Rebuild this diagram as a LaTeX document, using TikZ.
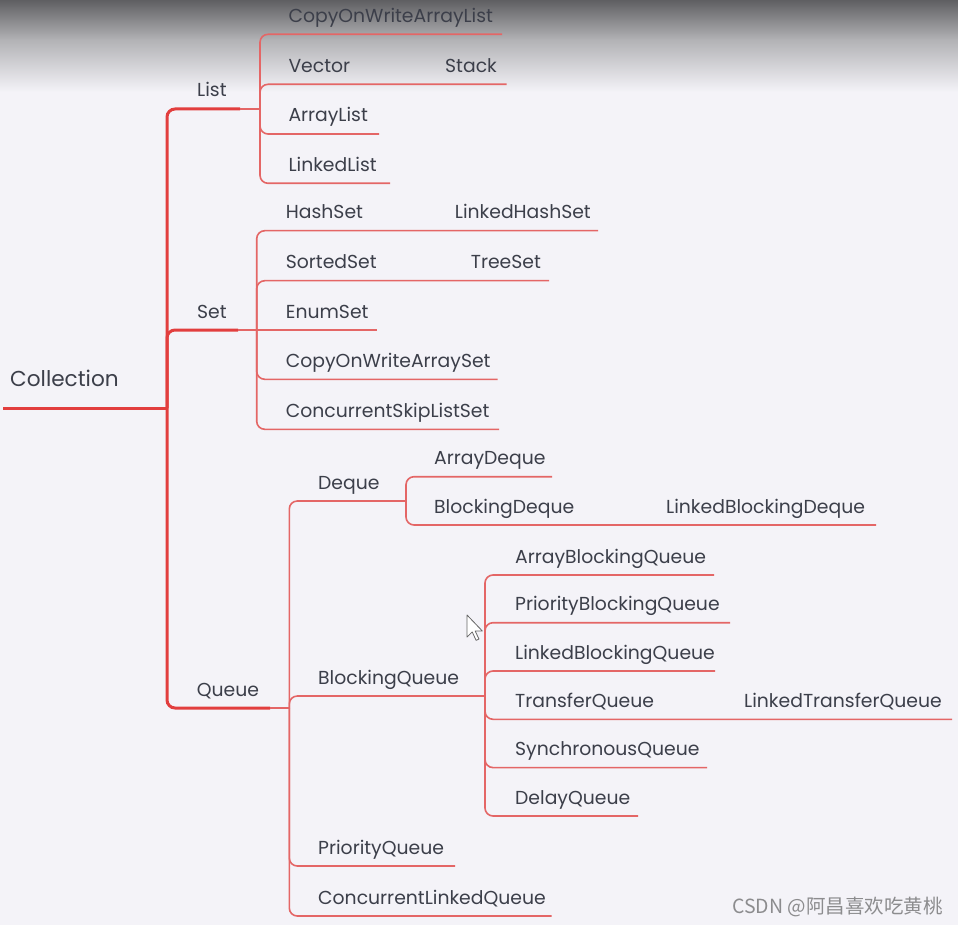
\documentclass[tikz,border=0pt]{standalone}
\usepackage{fontspec}
\setmainfont{Poppins}
\newfontfamily\cjkfont{Noto Sans CJK SC}
\definecolor{bg}{RGB}{244,243,248}
\definecolor{topgray}{RGB}{95,95,98}
\definecolor{midgray}{RGB}{178,178,181}
\definecolor{txt}{RGB}{60,63,74}
\definecolor{thickred}{RGB}{226,62,62}
\definecolor{thinred}{RGB}{228,102,102}
\definecolor{wm}{RGB}{140,140,142}
\begin{document}
\begin{tikzpicture}[x=1pt,y=-1pt,
  lbl/.style={anchor=base west,inner sep=0pt,text=txt,font=\fontsize{18.8}{22}\selectfont},
  rootlbl/.style={anchor=base west,inner sep=0pt,text=txt,font=\fontsize{21.6}{26}\selectfont},
  thickln/.style={draw=thickred,line width=3pt,rounded corners=8pt},
  thinln/.style={draw=thinred,line width=1.6pt,rounded corners=8pt}]
\useasboundingbox (0,0) rectangle (958,925);
\fill[bg] (0,0) rectangle (958,925);
\shade[top color=topgray,bottom color=midgray] (0,0) rectangle (958,40);
\shade[top color=midgray,bottom color=bg] (0,39.5) rectangle (958,92);

% ---------- root ----------
\node[rootlbl] (collection) at (10,386.7) {Collection};
\coordinate (root-s) at (3,408);
\coordinate (root-j) at (167,408);
\draw[thickln] (root-s) -- (root-j);

% ---------- level 1 ----------
\node[lbl] (list) at (197,97) {List};
\node[lbl] (set) at (197,318) {Set};
\node[lbl] (queue) at (196.7,696) {Queue};
\coordinate (list-e) at (240,109);
\coordinate (set-e) at (238,330);
\coordinate (queue-e) at (270,708);
\coordinate (list-j) at (260,109);
\coordinate (set-j) at (256.7,330);
\coordinate (queue-j) at (289.3,708);
\draw[thickln] (root-j) |- (list-e);
\draw[thickln] (root-j) |- (set-e);
\draw[thickln] (root-j) |- (queue-e);
\draw[thinln] (list-e) -- (list-j);
\draw[thinln] (set-e) -- (set-j);
\draw[thinln] (queue-e) -- (queue-j);

% ---------- List children ----------
\node[lbl] (cowal) at (288.3,22.3) {CopyOnWriteArrayList};
\node[lbl] (vector) at (288.3,72.3) {Vector};
\node[lbl] (stack) at (445,72.3) {Stack};
\node[lbl] (arraylist) at (288.3,122) {ArrayList};
\node[lbl] (linkedlist) at (288.3,171.3) {LinkedList};
\coordinate (cowal-e) at (502,34.3);
\coordinate (stack-e) at (506.7,84.3);
\coordinate (arraylist-e) at (379,134);
\coordinate (linkedlist-e) at (390,183.3);
\draw[thinln] (list-j) |- (cowal-e);
\draw[thinln] (list-j) |- (stack-e);
\draw[thinln] (list-j) |- (arraylist-e);
\draw[thinln] (list-j) |- (linkedlist-e);

% ---------- Set children ----------
\node[lbl] (hashset) at (285.7,218.7) {HashSet};
\node[lbl] (linkedhashset) at (454.7,218.7) {LinkedHashSet};
\node[lbl] (sortedset) at (285.7,268.7) {SortedSet};
\node[lbl] (treeset) at (470.7,268.7) {TreeSet};
\node[lbl] (enumset) at (285.7,318) {EnumSet};
\node[lbl] (cowas) at (285.7,367.3) {CopyOnWriteArraySet};
\node[lbl] (csls) at (285.7,417.3) {ConcurrentSkipListSet};
\coordinate (lhs-e) at (598,230.7);
\coordinate (treeset-e) at (549,280.7);
\coordinate (enumset-e) at (377,330);
\coordinate (cowas-e) at (497.7,379.3);
\coordinate (csls-e) at (499,429.3);
\draw[thinln] (set-j) |- (lhs-e);
\draw[thinln] (set-j) |- (treeset-e);
\draw[thinln] (set-j) -- (enumset-e);
\draw[thinln] (set-j) |- (cowas-e);
\draw[thinln] (set-j) |- (csls-e);

% ---------- Queue children ----------
\node[lbl] (deque) at (318,489) {Deque};
\node[lbl] (bq) at (318,684) {BlockingQueue};
\node[lbl] (pq) at (318,854) {PriorityQueue};
\node[lbl] (clq) at (318,904) {ConcurrentLinkedQueue};
\coordinate (deque-j) at (406,501);
\coordinate (bq-j) at (485,696);
\coordinate (pq-e) at (455,866);
\coordinate (clq-e) at (551.7,916);
\draw[thinln] (queue-j) |- (deque-j);
\draw[thinln] (queue-j) |- (bq-j);
\draw[thinln] (queue-j) |- (pq-e);
\draw[thinln] (queue-j) |- (clq-e);

% ---------- Deque children ----------
\node[lbl] (arraydeque) at (434,464.7) {ArrayDeque};
\node[lbl] (bdeque) at (434,513) {BlockingDeque};
\node[lbl] (lbd) at (666,513) {LinkedBlockingDeque};
\coordinate (arraydeque-e) at (552,476.7);
\coordinate (lbd-e) at (876,525);
\draw[thinln] (deque-j) |- (arraydeque-e);
\draw[thinln] (deque-j) |- (lbd-e);

% ---------- BlockingQueue children ----------
\node[lbl] (abq) at (515,563) {ArrayBlockingQueue};
\node[lbl] (pbq) at (515,610.7) {PriorityBlockingQueue};
\node[lbl] (lbq) at (515,659) {LinkedBlockingQueue};
\node[lbl] (tq) at (515,707.3) {TransferQueue};
\node[lbl] (ltq) at (744,707.3) {LinkedTransferQueue};
\node[lbl] (sq) at (515,755.6) {SynchronousQueue};
\node[lbl] (dq) at (515,804) {DelayQueue};
\coordinate (abq-e) at (714,575);
\coordinate (pbq-e) at (730,622.7);
\coordinate (lbq-e) at (715,671);
\coordinate (ltq-e) at (952,719.3);
\coordinate (sq-e) at (707,767.6);
\coordinate (dq-e) at (638,816);
\draw[thinln] (bq-j) |- (abq-e);
\draw[thinln] (bq-j) |- (pbq-e);
\draw[thinln] (bq-j) |- (lbq-e);
\draw[thinln] (bq-j) |- (ltq-e);
\draw[thinln] (bq-j) |- (sq-e);
\draw[thinln] (bq-j) |- (dq-e);

% ---------- mouse pointer ----------
\begin{scope}[shift={(467,615)},scale=1.3]
\draw[fill=white,draw=gray!80!black,line width=0.8pt,line join=round]
  (0,0) -- (0,17) -- (4,13) -- (7,19.5) -- (9.2,18.5) -- (6.3,12.3) -- (11.8,12.3) -- cycle;
\end{scope}

% ---------- watermark ----------
\node[anchor=base west,inner sep=0pt,text=wm,font=\cjkfont\fontsize{19.5}{21}\selectfont] (wmark) at (732,913) {CSDN @阿昌喜欢吃黄桃};
\end{tikzpicture}
\end{document}
